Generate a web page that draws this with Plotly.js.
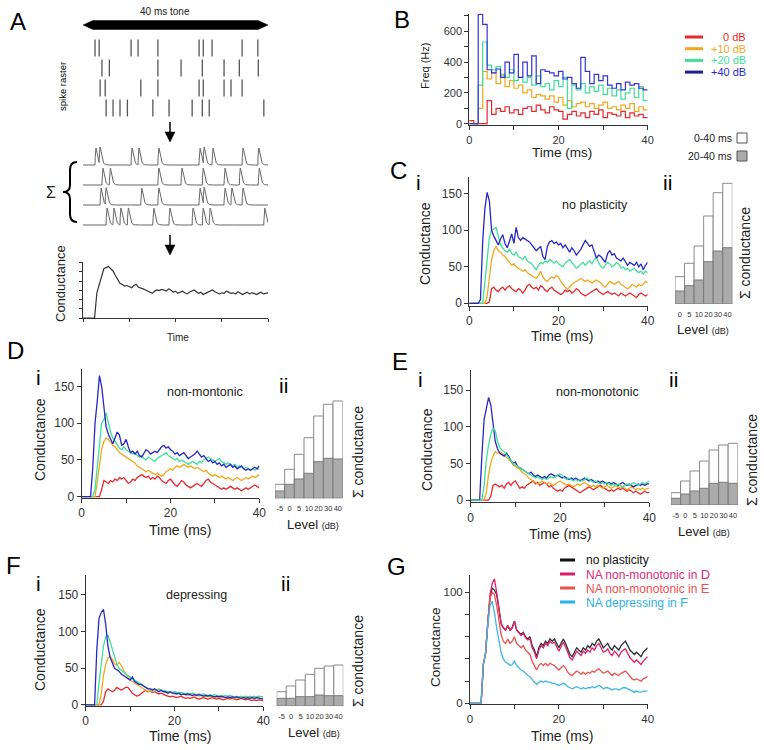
<!DOCTYPE html>
<html><head><meta charset="utf-8">
<script src="https://cdn.plot.ly/plotly-3.0.1.min.js"></script>
<style>html,body{margin:0;padding:0;background:#fff}#chart{width:764px;height:750px}</style>
</head><body><div id="chart"></div>
<script>
// ---------- DATA ----------
const timeMs = Array.from({length:81},(_,i)=>i*0.5);   // 0..40 ms sampling grid
const binEdges = Array.from({length:41},(_,i)=>i);     // 1 ms bins
const timeTicks = [0,10,20,30,40];
const timeTickText = ['0','','20','','40'];

// Panel A spike raster (ms)
const rasterRow1 = [2.6,3.5,10.4,11.9,16.2,25.1,26.0,27.9,34.4,37.8];
const rasterRow2 = [4.1,5.7,16.2,21.2,25.8,30.5,33.8,37.9];
const rasterRow3 = [3.7,4.8,12.5,16.2,25.1,26.0,30.5,32.0,34.4];
const rasterRow4 = [5.0,6.5,8.0,9.6,15.1,18.6,23.6,25.8,27.3,39.1];
const A_cond = [0,0,0,0,0,0,45,60,75,88, 90,92,88,84,76,70,62,60,57,58, 56,54,58,60,55,54,52,50,48,46, 44,48,50,49,51,50,48,52,50,46, 48,44,46,48,45,43,46,48,50,47, 44,46,42,44,46,48,50,47,45,43, 45,44,48,46,44,45,43,47,45,42, 44,46,43,45,44,42,44,46,43,44, 45];

// Panel B PSTH (Hz), 1 ms bins
const B_0dB  = [20,0,0,0,150,60,100,80,110,70, 90,60,100,110,80,120,90,70,110,90, 80,30,60,80,50,70,40,80,60,90, 40,70,60,50,80,40,70,50,60,40];
const B_10dB = [0,0,100,340,290,330,260,310,240,280, 230,250,200,220,170,190,180,160,180,140, 170,120,150,110,130,140,110,130,100,120, 140,100,110,90,120,100,130,80,110,90];
const B_20dB = [0,0,250,530,380,350,370,320,300,350, 280,300,270,300,250,310,240,260,220,280, 240,300,100,250,220,260,200,240,210,250, 190,230,180,220,160,200,230,170,240,150];
const B_40dB = [0,0,709,645,350,330,355,300,400,330, 450,300,400,310,440,260,350,340,330,310, 340,290,300,260,230,430,340,260,320,280, 310,250,230,260,220,270,250,260,230,220];

// Panel C (no plasticity)
const C_red    = [0,0,0,0,0,0,0,0,0,2, 20,22,18,16,20,22,18,22,24,20, 18,16,20,18,14,18,24,26,22,20, 22,18,24,22,18,16,20,22,18,16, 14,12,14,18,16,18,14,16,20,18, 14,12,10,12,14,16,18,20,16,14, 12,14,16,14,12,14,12,10,14,12, 10,12,14,12,10,8,12,14,12,10, 12];
const C_orange = [0,0,0,0,0,0,0,0,10,40, 60,72,78,72,70,66,64,60,56,52, 54,50,48,46,44,46,42,40,38,36, 34,38,44,36,32,30,34,36,34,38, 36,30,26,22,20,22,26,28,30,32, 34,32,30,32,30,28,30,32,30,28, 24,22,26,30,28,26,28,30,26,24, 22,20,22,26,24,22,26,24,26,30, 28];
const C_green  = [0,0,0,0,0,0,0,30,65,90, 100,102,104,92,80,76,72,70,74,68, 66,70,64,62,60,64,58,56,54,50, 46,52,56,54,58,56,60,58,55,58, 54,52,50,55,58,60,56,52,48,50, 54,56,52,56,58,54,60,62,56,50, 48,52,56,54,50,52,56,54,48,50, 46,48,44,46,48,44,42,44,40,44, 42];
const C_blue   = [0,0,0,0,0,5,85,130,152,140, 100,92,86,80,88,94,82,76,85,95, 82,104,90,86,90,88,86,84,80,76, 72,75,78,64,60,78,84,86,82,84, 80,82,76,80,74,70,76,72,66,70, 74,80,86,82,78,80,70,62,66,64, 60,56,68,72,66,68,62,60,58,62, 56,52,56,54,52,56,50,54,46,52, 56];

// Panel D (non-montonic)
const D_red    = [0,0,0,0,0,0,0,0,0,10, 22,20,18,22,20,24,22,26,24,26, 22,18,20,24,22,26,28,30,28,26, 28,24,26,24,28,26,22,20,18,22, 24,20,16,14,18,22,20,16,14,12, 14,16,18,16,14,18,22,24,20,18, 16,14,12,10,12,10,12,14,12,10, 12,10,8,10,12,10,12,14,16,14, 12];
const D_orange = [0,0,0,0,0,0,0,20,45,65, 75,80,78,74,70,68,64,60,58,56, 55,52,50,48,46,42,40,38,36,34, 36,34,32,30,32,30,28,30,34,36, 38,36,40,42,40,42,44,42,40,42, 40,38,40,38,36,34,36,32,30,28, 30,28,26,28,26,24,26,24,22,24, 26,24,22,24,26,24,26,28,26,28, 30];
const D_green  = [0,0,0,0,0,0,10,45,70,100, 105,114,100,88,80,75,70,66,64,68, 64,62,60,58,60,56,54,56,52,50, 54,52,50,48,52,54,56,58,60,56, 54,52,50,52,48,50,48,46,44,46, 48,46,44,48,46,50,52,54,52,50, 48,50,52,48,46,44,46,44,42,44, 40,42,40,38,40,38,36,38,36,38, 38];
const D_blue   = [0,0,0,0,0,40,100,130,165,150, 120,95,85,78,72,80,88,84,70,72, 78,68,60,62,58,62,56,54,60,64, 62,58,60,62,60,64,68,70,66,68, 64,62,58,60,56,58,60,56,52,54, 56,58,62,58,54,56,52,48,50,46, 48,44,46,42,44,40,42,44,40,42, 38,40,42,38,36,38,36,38,40,38, 42];

// Panel E (non-monotonic)
const E_red    = [0,0,0,0,0,0,0,0,0,5, 20,22,20,18,20,16,22,24,20,24, 26,20,16,18,16,20,22,24,26,22, 24,20,22,24,22,18,20,16,14,12, 14,12,16,18,20,18,16,14,12,10, 12,14,16,18,16,14,16,18,20,18, 16,14,12,14,12,14,16,14,16,14, 12,14,12,10,12,10,8,10,12,10, 10];
const E_orange = [0,0,0,0,0,0,0,10,35,50, 60,66,64,66,64,62,58,56,52,48, 46,44,42,38,36,34,30,28,26,24, 22,24,26,24,22,24,22,20,22,24, 26,24,22,20,22,20,18,20,22,20, 22,24,22,20,18,20,18,20,18,16, 18,20,18,16,18,20,18,16,18,16, 14,16,18,16,14,16,14,16,14,16, 16];
const E_green  = [0,0,0,0,0,0,20,55,75,90, 98,95,80,72,68,66,62,58,54,50, 48,46,44,42,40,38,36,34,32,30, 32,30,28,30,28,30,32,30,32,34, 36,34,30,28,30,28,26,28,26,28, 26,28,30,28,26,24,26,24,22,24, 22,24,22,20,22,20,22,20,18,20, 22,20,22,24,22,20,22,24,22,24, 26];
const E_blue   = [0,0,0,0,0,60,110,125,140,130, 105,80,70,64,62,60,64,60,54,50, 52,46,44,42,40,38,36,38,34,32, 34,32,30,32,30,34,36,34,32,34, 32,30,32,30,28,30,28,30,28,26, 28,30,28,26,28,26,24,26,24,26, 24,22,24,22,24,22,20,22,24,22, 20,22,20,18,20,22,20,22,20,22, 22];

// Panel F (depressing)
const F_red    = [0,0,0,0,0,0,0,0,5,18, 22,20,18,20,24,22,20,22,24,24, 20,16,14,12,13,16,18,20,18,19, 17,18,16,15,16,14,13,12,11,12, 11,10,11,12,10,9,10,9,10,11, 9,8,9,10,9,8,9,10,9,8, 9,8,7,8,9,8,9,8,7,8, 9,8,7,8,7,6,7,6,7,6, 6];
const F_orange = [0,0,0,0,0,0,0,15,40,55, 64,66,62,56,54,58,54,48,42,38, 34,32,30,28,25,23,22,20,19,18, 18,19,20,22,20,18,17,16,17,16, 15,16,15,14,15,14,13,14,13,12, 13,12,13,12,11,12,11,12,11,10, 11,10,11,10,10,11,10,9,10,9, 10,9,10,9,10,9,9,10,9,9, 9];
const F_green  = [0,0,0,0,0,0,30,60,80,92, 95,86,76,66,56,50,48,45,42,40, 37,36,33,31,29,27,25,24,23,22, 22,21,20,21,20,19,19,18,18,17, 18,17,16,17,16,15,16,15,16,15, 14,15,14,15,14,13,14,13,14,13, 12,13,12,13,12,13,12,11,12,11, 12,11,12,11,12,11,12,11,12,11, 11];
const F_blue   = [0,0,0,0,0,75,118,126,130,110, 80,65,56,50,48,46,42,40,38,36, 34,38,32,30,28,28,26,24,22,22, 20,22,20,18,20,18,18,16,18,16, 16,15,16,14,15,14,15,14,13,14, 13,14,13,12,13,12,13,12,11,12, 11,12,11,10,11,10,11,10,11,10, 9,10,9,10,9,10,9,10,9,8, 8];

// Panel G
const G_noPlast = [0,0,0,0,0,0,35,45,72,95, 104,102,98,84,72,68,66,70,66,68, 74,66,64,62,64,60,58,60,52,48, 42,50,54,52,56,54,58,56,58,54, 50,54,58,54,48,44,42,46,50,48, 46,50,48,52,50,54,52,56,58,54, 50,52,54,50,48,52,50,48,52,54, 56,52,48,46,44,46,44,42,46,48, 50];
const G_naD = [0,0,0,0,0,0,35,45,72,98, 108,112,100,86,72,68,66,70,66,68, 74,66,63,61,63,59,57,58,50,46, 40,48,52,50,54,52,56,54,55,51, 47,51,55,51,45,41,39,43,47,45, 43,47,45,48,46,50,48,52,54,50, 46,47,49,45,43,47,45,42,46,48, 49,45,41,39,37,39,37,35,38,40, 42];
const G_naE = [0,0,0,0,0,0,35,45,72,95, 100,98,88,74,62,56,54,58,54,56, 60,54,52,50,52,48,46,44,38,34, 30,34,36,34,36,34,36,35,34,32, 30,32,34,32,28,26,25,27,29,28, 26,28,26,28,27,29,28,30,31,29, 27,28,29,27,25,27,26,25,27,28, 29,27,24,22,21,22,21,20,22,23, 24];
const G_naF = [0,0,0,0,0,0,35,45,70,88, 92,82,68,55,46,40,37,36,34,35, 38,34,32,30,29,27,25,24,21,19, 17,19,20,19,20,19,19,18,18,17, 16,17,18,17,15,14,13,14,15,14, 13,14,13,14,14,15,14,15,16,15, 13,14,14,13,12,13,13,12,13,14, 14,13,12,11,10,11,10,10,11,11, 11];

// Σ conductance bars (arbitrary units)
const levelsC = ['0','5','10','20','30','40'];
const levelsDEF = ['-5','0','5','10','20','30','40'];
const C_total = [27.3,40.7,58,88,111.3,120.7];
const C_late  = [13,18.3,24,42.3,53,56.3];
const D_total = [14,29,44,60.6,82.3,94,97.3];
const D_late  = [7.3,14,19.3,25,36.6,40,39.3];
const E_total = [12.3,24,34,44,55,60,61.7];
const E_late  = [6.7,11,14,16.7,21.7,22.7,21.7];
const F_total = [14.3,20,26,31.7,37.7,40,41];
const F_late  = [7.7,7.7,9.3,9.3,11,10.3,10.3];

// ---------- STYLE ----------
const W=764, H=750;
const FONT='Liberation Sans, Arial, Helvetica, sans-serif';
const COL = {red:'#e8282c', orange:'#f2a81d', green:'#3fe09a', blue:'#2626c8'};
const GCOL = {black:'#303030', mag:'#e0206e', red:'#ef5050', lb:'#3cb8ea'};
const P=(x,y)=>(x/W).toFixed(5)+','+(1-y/H).toFixed(5);

const traces=[]; const layout={width:W,height:H,margin:{l:0,r:0,t:0,b:0},paper_bgcolor:'#fff',plot_bgcolor:'rgba(0,0,0,0)',showlegend:false,barmode:'overlay',bargap:0,annotations:[],shapes:[]};
const ids=n=>n===1?['x','y','xaxis','yaxis']:['x'+n,'y'+n,'xaxis'+n,'yaxis'+n];
const base={showgrid:false,zeroline:false,fixedrange:true};

function lineAxes(n,x0,x1,yTop,yBot,yr,ytv,yttxt,fs){
  const [xi,yi,xk,yk]=ids(n);
  layout[xk]={...base,domain:[x0/W,x1/W],anchor:yi,range:[0,40],showline:true,linecolor:'#333',linewidth:1,ticks:'outside',ticklen:4,tickwidth:1,tickcolor:'#333',tickmode:'array',tickvals:timeTicks,ticktext:timeTickText,tickfont:{family:FONT,size:fs,color:'#333'}};
  layout[yk]={...base,domain:[1-yBot/H,1-yTop/H],anchor:xi,range:yr,showline:true,linecolor:'#333',linewidth:1,ticks:'outside',ticklen:4,tickwidth:1,tickcolor:'#333',tickmode:'array',tickvals:ytv,ticktext:yttxt,tickfont:{family:FONT,size:fs,color:'#333'}};
}
function barAxes(n,x0,x1,yTop,yBot,cats){
  const [xi,yi,xk,yk]=ids(n);
  layout[xk]={...base,domain:[x0/W,x1/W],anchor:yi,type:'category',showline:false,ticks:'outside',ticklen:3,tickcolor:'rgba(0,0,0,0)',tickangle:0,tickmode:'array',tickvals:cats,ticktext:cats,tickfont:{family:FONT,size:7.5,color:'#333'}};
  layout[yk]={...base,domain:[1-yBot/H,1-yTop/H],anchor:xi,range:[0,128],visible:false};
}
function line(y,color,n,w,shape){
  const [xi,yi]=ids(n);
  traces.push({type:'scatter',mode:'lines',x:timeMs.slice(0,y.length),y:y,line:{color:color,width:w||1.3,shape:shape||'linear'},xaxis:xi,yaxis:yi,hoverinfo:'skip'});
}
function bars(n,cats,total,late){
  const [xi,yi]=ids(n);
  traces.push({type:'bar',x:cats,y:total,marker:{color:'#fff',line:{color:'#8a8a8a',width:1}},xaxis:xi,yaxis:yi,hoverinfo:'skip'});
  traces.push({type:'bar',x:cats,y:late,marker:{color:'#ababab',line:{color:'#7a7a7a',width:1}},xaxis:xi,yaxis:yi,hoverinfo:'skip'});
}
function ann(x,y,text,size,o){
  layout.annotations.push(Object.assign({x:x/W,y:1-y/H,xref:'paper',yref:'paper',text:text,showarrow:false,xanchor:'center',yanchor:'middle',font:{family:FONT,size:size,color:'#222'}},o||{}));
}
function pathShape(d,fill,lineColor,lw){
  layout.shapes.push({type:'path',xref:'paper',yref:'paper',path:d,fillcolor:fill||'rgba(0,0,0,0)',line:{color:lineColor||'#000',width:lw===undefined?1:lw}});
}
function hline(x0,x1,y,color,w){
  layout.shapes.push({type:'line',xref:'paper',yref:'paper',x0:x0/W,x1:x1/W,y0:1-y/H,y1:1-y/H,line:{color:color,width:w}});
}
function rect(x0,y0,x1,y1,fill,lc){
  layout.shapes.push({type:'rect',xref:'paper',yref:'paper',x0:x0/W,x1:x1/W,y0:1-y1/H,y1:1-y0/H,fillcolor:fill,line:{color:lc,width:1}});
}

// ---------- PANEL A ----------
layout.xaxis={...base,domain:[83/W,268/W],anchor:'y',range:[0,40],visible:false};
layout.yaxis={...base,domain:[1-118/H,1-38/H],anchor:'x',range:[4.5,0.5],visible:false};
[rasterRow1,rasterRow2,rasterRow3,rasterRow4].forEach((row,i)=>{
  traces.push({type:'scatter',mode:'markers',x:row,y:row.map(()=>i+1),marker:{symbol:'line-ns-open',size:12,color:'#555',line:{color:'#555',width:1.3}},xaxis:'x',yaxis:'y',hoverinfo:'skip'});
});
layout.xaxis2={...base,domain:[83/W,268/W],anchor:'y2',range:[0,40],visible:false};
layout.yaxis2={...base,domain:[1-230/H,1-140/H],anchor:'x2',range:[0,90],visible:false};
const rowBase=[65,45,25,5], tau=0.2, pspH=17;
const fineT=Array.from({length:1001},(_,i)=>i*0.04);
[rasterRow1,rasterRow2,rasterRow3,rasterRow4].forEach((row,i)=>{
  const y=fineT.map(t=>{let s=0;row.forEach(ti=>{const d=t-ti;if(d>0)s+=(d/tau)*Math.exp(1-d/tau);});return rowBase[i]+pspH*Math.min(s,1.15);});
  traces.push({type:'scatter',mode:'lines',x:fineT,y:y,line:{color:'#666',width:1},xaxis:'x2',yaxis:'y2',hoverinfo:'skip'});
});
layout.xaxis3={...base,domain:[83/W,268/W],anchor:'y3',range:[0,40],showline:true,linecolor:'#333',ticks:'outside',ticklen:3,tickcolor:'#333',dtick:10,showticklabels:false};
layout.yaxis3={...base,domain:[1-318/H,1-262/H],anchor:'x3',range:[0,100],showline:true,linecolor:'#333',ticks:'outside',ticklen:3,tickcolor:'#333',dtick:16.5,showticklabels:false};
line(A_cond,'#333',3,1.2);

pathShape(`M ${P(83,25)} L ${P(93,20.5)} L ${P(258,20.5)} L ${P(268,25)} L ${P(258,29.5)} L ${P(93,29.5)} Z`,'#000','#000',0.5);
pathShape(`M ${P(170,122)} L ${P(170,133)}`,null,'#000',1.5);
pathShape(`M ${P(165,132)} L ${P(175,132)} L ${P(170,142)} Z`,'#000','#000',0.5);
pathShape(`M ${P(170,235)} L ${P(170,246)}`,null,'#000',1.5);
pathShape(`M ${P(165,245)} L ${P(175,245)} L ${P(170,255)} Z`,'#000','#000',0.5);
pathShape(`M ${P(77,162)} Q ${P(70,162)} ${P(70,170)} L ${P(70,185)} Q ${P(70,192)} ${P(63,192)} Q ${P(70,192)} ${P(70,199)} L ${P(70,214)} Q ${P(70,222)} ${P(77,222)}`,null,'#000',2);
ann(18,21,'A',24,{font:{family:FONT,size:24,color:'#000'}});
ann(165,11,'40 ms tone',10);
ann(62,87,'spike raster',9.5,{textangle:-90,font:{family:FONT,size:9.5,color:'#000'}});
ann(51,192,'Σ',16);
ann(60,284,'Conductance',13,{textangle:-90});
ann(178,337,'Time',10);

// ---------- PANEL B ----------
lineAxes(4,469.3,647.7,13.5,125.4,[-11,715],[0,100,200,300,400,500,600,700],['0','','200','','400','','600',''],11);
[[B_0dB,COL.red],[B_10dB,COL.orange],[B_20dB,COL.green],[B_40dB,'#3434d8']].forEach(([v,c])=>{
  traces.push({type:'scatter',mode:'lines',x:binEdges,y:v.concat([v[v.length-1]]),line:{color:c,width:1.2,shape:'hv'},xaxis:'x4',yaxis:'y4',hoverinfo:'skip'});
});
ann(402,20,'B',24,{font:{family:FONT,size:24,color:'#000'}});
ann(562,153,'Time (ms)',13.5);
ann(425,66,'Freq (Hz)',11,{textangle:-90});
const legB=[['0 dB',COL.red,COL.red,37],['+10 dB',COL.orange,COL.orange,48.7],['+20 dB',COL.green,COL.green,60.4],['+40 dB','#1e1e9a','#2b2bd0',72.1]];
legB.forEach(([t,lc,tc,y])=>{hline(685,703,y,lc,3);ann(748,y,t,11,{xanchor:'right',font:{family:FONT,size:11,color:tc}});});
ann(734,138,'0-40 ms',10.5,{xanchor:'right'});
ann(734,156,'20-40 ms',10.5,{xanchor:'right'});
rect(737,133,747,143,'#fff','#555');
rect(737,151,747,161,'#ababab','#555');

// ---------- PANEL C ----------
lineAxes(5,469.3,647.7,176.7,305.7,[-3.3,173.4],[0,50,100,150],['0','50','100','150'],12);
line(C_red,COL.red,5); line(C_orange,COL.orange,5); line(C_green,COL.green,5); line(C_blue,COL.blue,5);
barAxes(6,675,732.3,176,304,levelsC); bars(6,levelsC,C_total,C_late);
ann(399,171,'C',24,{font:{family:FONT,size:24,color:'#000'}});
ann(418,182,'i',21,{font:{family:FONT,size:21,color:'#000'}});
ann(667,182,'ii',21,{font:{family:FONT,size:21,color:'#000'}});
ann(595,205,'no plasticity',12.5);
ann(561.7,335.5,'Time (ms)',14);
ann(425,243,'Conductance',14,{textangle:-90});
ann(703,329,'Level <span style="font-size:9px">(dB)</span>',13);
ann(745,253,'Σ conductance',14,{textangle:-90});

// ---------- PANEL D ----------
lineAxes(7,81.7,259.3,369.3,497.7,[-1.4,173.5],[0,50,100,150],['0','50','100','150'],12);
line(D_red,COL.red,7); line(D_orange,COL.orange,7); line(D_green,COL.green,7); line(D_blue,COL.blue,7);
barAxes(8,275,342.7,370.3,498.3,levelsDEF); bars(8,levelsDEF,D_total,D_late);
ann(15,350,'D',24,{font:{family:FONT,size:24,color:'#000'}});
ann(38,377,'i',21,{font:{family:FONT,size:21,color:'#000'}});
ann(283,385,'ii',21,{font:{family:FONT,size:21,color:'#000'}});
ann(205,392,'non-montonic',12.5);
ann(180,530,'Time (ms)',14);
ann(40,440,'Conductance',14,{textangle:-90});
ann(313,524,'Level <span style="font-size:9px">(dB)</span>',13);
ann(358,452,'Σ conductance',14,{textangle:-90});

// ---------- PANEL E ----------
lineAxes(9,470.7,649.3,370,502.3,[-3.1,177.6],[0,50,100,150],['0','50','100','150'],12);
line(E_red,COL.red,9); line(E_orange,COL.orange,9); line(E_blue,COL.blue,9); line(E_green,COL.green,9);
barAxes(10,671,737.7,377,505,levelsDEF); bars(10,levelsDEF,E_total,E_late);
ann(400,361,'E',24,{font:{family:FONT,size:24,color:'#000'}});
ann(420,379,'i',21,{font:{family:FONT,size:21,color:'#000'}});
ann(673,379,'ii',21,{font:{family:FONT,size:21,color:'#000'}});
ann(597,392,'non-monotonic',12.5);
ann(560,534,'Time (ms)',14);
ann(427,450,'Conductance',14,{textangle:-90});
ann(704,531,'Level <span style="font-size:9px">(dB)</span>',13);
ann(752,460,'Σ conductance',14,{textangle:-90});

// ---------- PANEL F ----------
lineAxes(11,85.7,263.3,575,705.7,[-1,177],[0,50,100,150],['0','50','100','150'],12);
line(F_red,COL.red,11); line(F_orange,COL.orange,11); line(F_green,COL.green,11); line(F_blue,COL.blue,11);
barAxes(12,276.7,343.3,578,706,levelsDEF); bars(12,levelsDEF,F_total,F_late);
ann(14,565,'F',24,{font:{family:FONT,size:24,color:'#000'}});
ann(38,583,'i',21,{font:{family:FONT,size:21,color:'#000'}});
ann(285,583,'ii',21,{font:{family:FONT,size:21,color:'#000'}});
ann(197,595,'depressing',12.5);
ann(180,736,'Time (ms)',14);
ann(40,650,'Conductance',14,{textangle:-90});
ann(314,732,'Level <span style="font-size:9px">(dB)</span>',13);
ann(358,661,'Σ conductance',14,{textangle:-90});

// ---------- PANEL G ----------
lineAxes(13,470,647.7,575,704.3,[-0.9,115.6],[0,20,40,60,80,100],['0','','','','','100'],11.5);
line(G_noPlast,GCOL.black,13); line(G_naD,GCOL.mag,13); line(G_naE,GCOL.red,13); line(G_naF,GCOL.lb,13);
ann(396,566,'G',24,{font:{family:FONT,size:24,color:'#000'}});
ann(562,736,'Time (ms)',14);
ann(435,647,'Conductance',13.5,{textangle:-90});
const legG=[['no plasticity','#111','#111',560],['NA non-monotonic in <span style="font-size:13px">D</span>','#d81b6a','#e0287a',574],['NA non-monotonic in <span style="font-size:13px">E</span>','#ef5350','#ef4e4e',588],['NA depressing in <span style="font-size:13px">F</span>','#29b0f0','#2fb0ea',602]];
legG.forEach(([t,lc,tc,y])=>{hline(560,575,y,lc,3);ann(584,y,t,12,{xanchor:'left',font:{family:FONT,size:12,color:tc}});});

Plotly.newPlot('chart',traces,layout,{staticPlot:true,displayModeBar:false});
</script></body></html>
